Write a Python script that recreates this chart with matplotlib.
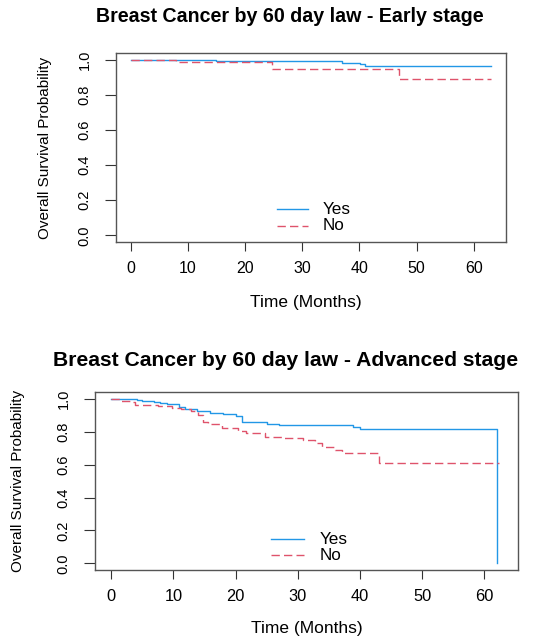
import matplotlib
matplotlib.use("Agg")
import matplotlib.pyplot as plt

plt.rcParams['font.family'] = ['Liberation Sans', 'DejaVu Sans']

# ---- data ----
early_yes_t = [0, 14.9, 37.0, 40.1, 41.0]
early_yes_s = [1.0, 0.995, 0.985, 0.975, 0.966]
early_yes_end = 63.1
early_no_t = [0, 8.0, 24.8, 47.0]
early_no_s = [1.0, 0.987, 0.947, 0.890]
early_no_end = 63.1

adv_yes_t = [0, 4.1, 4.9, 6.9, 7.8, 8.9, 10.9, 11.9, 13.8, 15.9, 18.0, 20.0, 21.0,
             25.0, 27.0, 38.9, 40.0, 62.1]
adv_yes_s = [1.0, 0.994, 0.990, 0.980, 0.974, 0.968, 0.952, 0.939, 0.927, 0.917,
             0.907, 0.898, 0.858, 0.848, 0.840, 0.828, 0.815, 0.0]
adv_yes_end = 62.1
adv_no_t = [0, 1.4, 3.0, 3.8, 7.5, 9.8, 11.2, 12.9, 13.9, 14.8, 15.6, 17.8, 20.4,
            21.6, 24.7, 27.7, 30.9, 32.8, 33.9, 36.0, 37.1, 43.0]
adv_no_s = [1.0, 0.988, 0.980, 0.965, 0.955, 0.947, 0.937, 0.927, 0.903, 0.860,
            0.848, 0.822, 0.807, 0.792, 0.767, 0.761, 0.748, 0.730, 0.711, 0.690,
            0.673, 0.612]
adv_no_end = 62.4

xticks = [0, 10, 20, 30, 40, 50, 60]
yticks = [0.0, 0.2, 0.4, 0.6, 0.8, 1.0]
ytick_labels = ["0.0", "0.2", "0.4", "0.6", "0.8", "1.0"]
legend_labels = ["Yes", "No"]
titles = ["Breast Cancer by 60 day law - Early stage",
          "Breast Cancer by 60 day law - Advanced stage"]
xlabel = "Time (Months)"
ylabel = "Overall Survival Probability"

BLUE = "#2297E6"
RED = "#DF536B"

W, H = 560, 636
fig = plt.figure(figsize=(W / 100, H / 100), dpi=100)


def px_axes(l, r, t, b):
    return fig.add_axes([l / W, 1 - b / H, (r - l) / W, (b - t) / H])


def draw(ax, yt, ys, yend, nt, ns, nend, xlim, ylim, leg_line, leg_text_x, leg_y,
         xfs, yfs):
    ax.step(yt + [yend], ys + [ys[-1]], where='post', color=BLUE, lw=1.0)
    ax.step(nt + [nend], ns + [ns[-1]], where='post', color=RED, lw=1.0,
            linestyle=(0, (6, 3)))
    ax.set_xlim(*xlim)
    ax.set_ylim(*ylim)
    ax.set_xticks(xticks)
    ax.set_xticklabels([str(v) for v in xticks], fontsize=xfs)
    ax.set_yticks(yticks)
    ax.set_yticklabels(ytick_labels, fontsize=yfs, rotation=90, va='center')
    ax.tick_params(axis='x', length=6.5, width=0.8, pad=7.3, color='#333333')
    ax.tick_params(axis='y', length=7.7, width=0.8, pad=9.8, color='#333333')
    for s in ax.spines.values():
        s.set_linewidth(1.0)
        s.set_color('#555555')
    # legend (manual, R style bty="n")
    inv = ax.transData.inverted()
    for i, (lab, col, ls) in enumerate(zip(legend_labels, [BLUE, RED],
                                           ['-', (0, (6, 3))])):
        x0, y0 = inv.transform((leg_line[0], H - leg_y[i]))
        x1, _ = inv.transform((leg_line[1], H - leg_y[i]))
        ax.plot([x0, x1], [y0, y0], color=col, lw=1.0, linestyle=ls)
        xt, _ = inv.transform((leg_text_x, H - leg_y[i]))
        ax.text(xt, y0, lab, fontsize=12.3, va='center', ha='left')


ax1 = px_axes(115.7, 505.7, 52.7, 242.3)
draw(ax1, early_yes_t, early_yes_s, early_yes_end, early_no_t, early_no_s,
     early_no_end, (-2.62, 65.6), (-0.040, 1.042),
     (276.7, 308.3), 322.7, (209, 225.7), 11.5, 10.5)

ax2 = px_axes(95, 517.7, 392, 570)
draw(ax2, adv_yes_t, adv_yes_s, adv_yes_end, adv_no_t, adv_no_s, adv_no_end,
     (-2.62, 65.37), (-0.041, 1.043),
     (270.7, 304), 320, (539, 555), 11.8, 10.5)

fig.text(289.5 / W, 1 - 17 / H, titles[0], ha='center', va='center',
         fontsize=14.1, fontweight='bold')
fig.text(285.6 / W, 1 - 360 / H, titles[1], ha='center', va='center',
         fontsize=15.2, fontweight='bold')
fig.text(306 / W, 1 - 303 / H, xlabel, ha='center', va='center', fontsize=12.5)
fig.text(306.4 / W, 1 - 628 / H, xlabel, ha='center', va='center', fontsize=12.5)
fig.text(45 / W, 1 - 147.5 / H, ylabel, ha='center', va='center', fontsize=11,
         rotation=90)
fig.text(18.3 / W, 1 - 481 / H, ylabel, ha='center', va='center', fontsize=11,
         rotation=90)

fig.savefig("out.png", dpi=100)
